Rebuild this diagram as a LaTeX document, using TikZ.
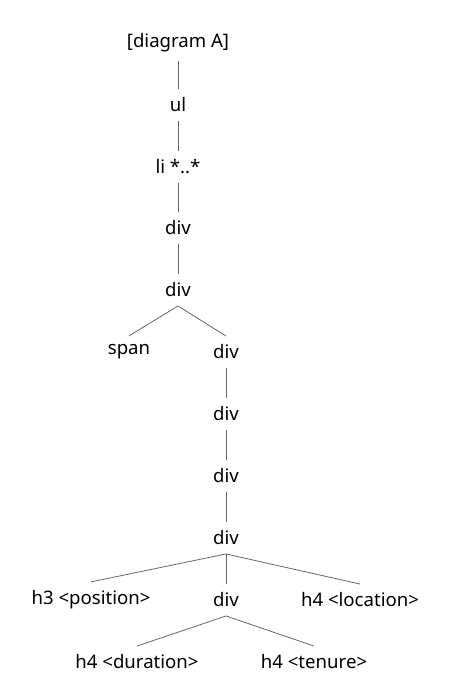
\documentclass[tikz,border=0pt]{standalone}
\usepackage{fontspec}
\setmainfont{Noto Sans}
\usepackage{tikz}
\usetikzlibrary{positioning}

\begin{document}
\begin{tikzpicture}[
    x=1pt, y=-1pt,
    tag/.style={inner sep=8.6pt, font=\fontsize{18.6}{22}\selectfont},
    edge/.style={draw=black!60, line width=0.8pt}
  ]
  \useasboundingbox (0,0) rectangle (451,699);

  % Spine: top of the tree
  \node[tag] (diagA) at (178,43) {[diagram A]};
  \node[tag] (ul) at (178,105) {ul};
  \node[tag] (li) at (178,167) {li *..*};
  \node[tag] (div1) at (178,228) {div};
  \node[tag] (div2) at (178,290) {div};

  % First split
  \node[tag] (span) at (129,352) {span};
  \node[tag] (div3) at (226,352) {div};
  \node[tag] (div4) at (226,414) {div};
  \node[tag] (div5) at (226,476) {div};
  \node[tag] (div6) at (226,538) {div};

  % Second split
  \node[tag] (h3pos) at (91,600) {h3 <position>};
  \node[tag] (div7) at (226,600) {div};
  \node[tag] (h4loc) at (360,600) {h4 <location>};

  % Leaves
  \node[tag] (h4dur) at (137,662) {h4 <duration>};
  \node[tag] (h4ten) at (314,662) {h4 <tenure>};

  % Edges
  \draw[edge] (diagA.south) -- (ul.north);
  \draw[edge] (ul.south) -- (li.north);
  \draw[edge] (li.south) -- (div1.north);
  \draw[edge] (div1.south) -- (div2.north);
  \draw[edge] (div2.south) -- (span.north);
  \draw[edge] (div2.south) -- (div3.north);
  \draw[edge] (div3.south) -- (div4.north);
  \draw[edge] (div4.south) -- (div5.north);
  \draw[edge] (div5.south) -- (div6.north);
  \draw[edge] (div6.south) -- (h3pos.north);
  \draw[edge] (div6.south) -- (div7.north);
  \draw[edge] (div6.south) -- (h4loc.north);
  \draw[edge] (div7.south) -- (h4dur.north);
  \draw[edge] (div7.south) -- (h4ten.north);

\end{tikzpicture}
\end{document}
